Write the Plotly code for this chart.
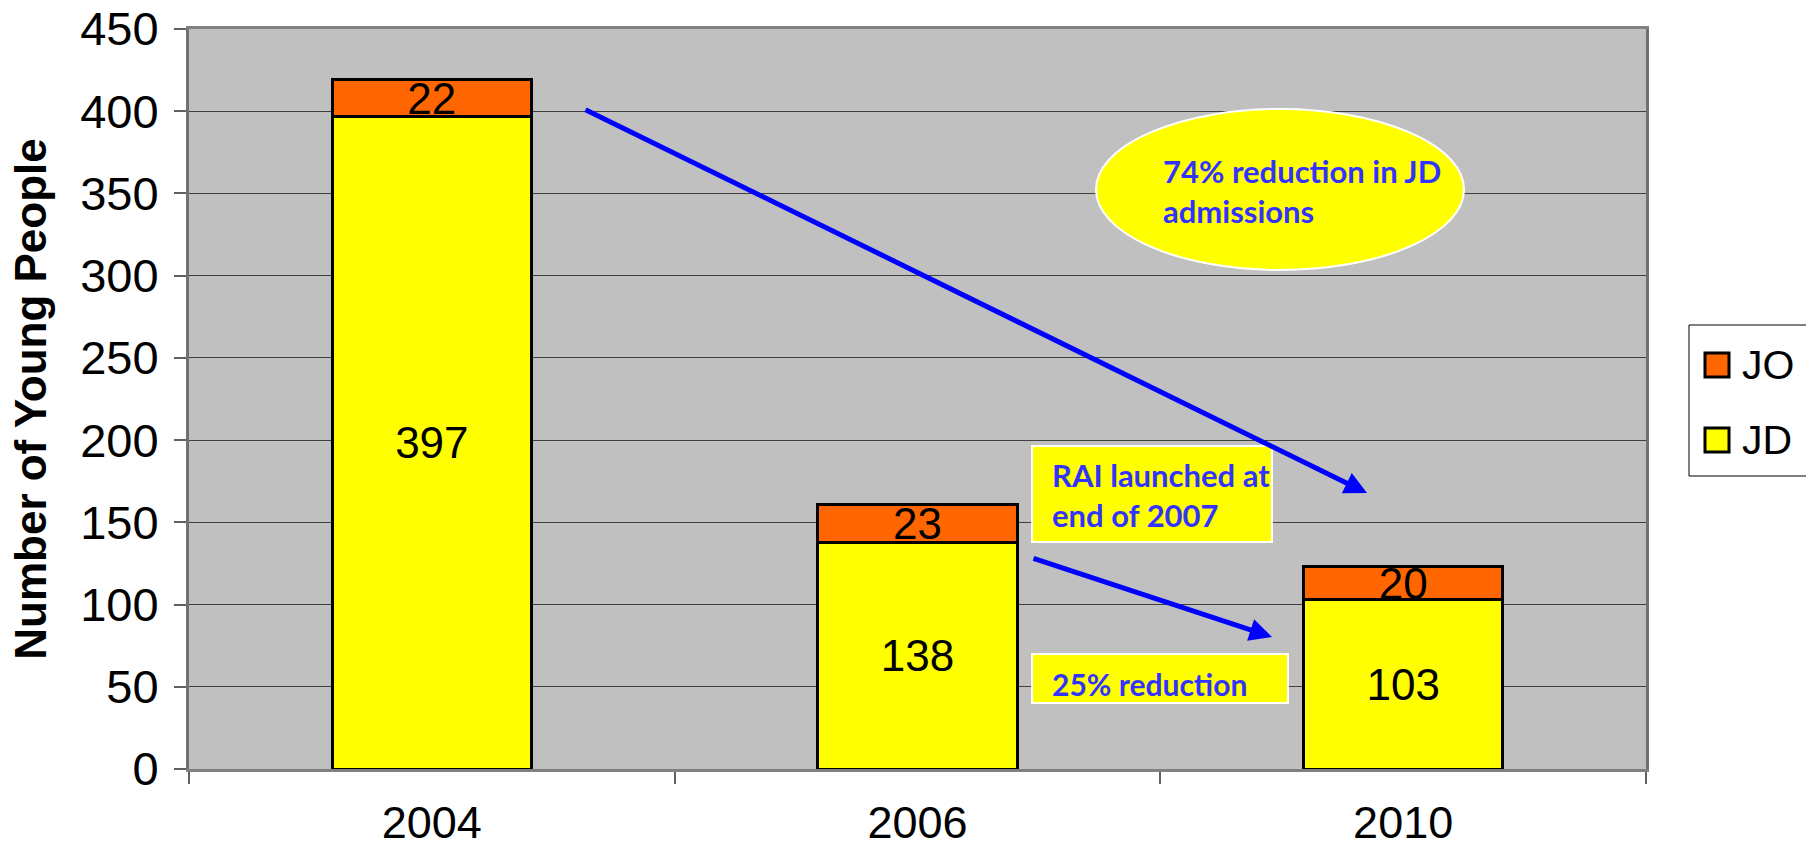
import plotly.graph_objects as go

# ---- data ----
years = ["2004", "2006", "2010"]
jd_values = [397, 138, 103]
jo_values = [22, 23, 20]
series_names = ["JD", "JO"]
y_ticks = [0, 50, 100, 150, 200, 250, 300, 350, 400, 450]

ellipse_text = "74% reduction in JD<br>admissions"
rai_text = "RAI launched at<br>end of 2007"
small_text = "25% reduction"
y_title = "Number of Young People"

# ---- layout geometry (page pixels) ----
W, H = 1806, 849
L, R, T, B = 189, 1646, 29, 769
PW, PH = R - L, B - T


def px(x):
    return (x - L) / PW


def py(y):
    return (B - y) / PH


ORANGE = "#FF6600"
YELLOW = "#FFFF00"
TXT_BLUE = "#3333FF"
BASE_FONT = "Liberation Sans, Arial, sans-serif"
NOTE_FONT = "Lato, Carlito, Calibri, sans-serif"
FS = 44
TICK_FS = 47
NOTE_FS = 31

fig = go.Figure()
fig.add_trace(go.Bar(
    x=years, y=jd_values, name=series_names[0],
    marker=dict(color=YELLOW, line=dict(color="black", width=3)),
    text=[str(v) for v in jd_values], textposition="inside",
    insidetextanchor="middle", textangle=0,
    textfont=dict(size=FS, color="black", family=BASE_FONT),
    width=0.41, showlegend=False, hoverinfo="skip",
))
fig.add_trace(go.Bar(
    x=years, y=jo_values, name=series_names[1],
    marker=dict(color=ORANGE, line=dict(color="black", width=3)),
    text=[str(v) for v in jo_values], textposition="inside",
    insidetextanchor="middle", textangle=0,
    textfont=dict(size=FS, color="black", family=BASE_FONT),
    width=0.41, showlegend=False, hoverinfo="skip",
))

shapes = [
    dict(type="circle", xref="paper", yref="paper",
         x0=px(1096), x1=px(1464), y0=py(270), y1=py(109),
         fillcolor=YELLOW, line=dict(color="white", width=2), layer="above"),
    dict(type="rect", xref="paper", yref="paper",
         x0=px(1032), x1=px(1272), y0=py(542), y1=py(446),
         fillcolor=YELLOW, line=dict(color="white", width=2), layer="above"),
    dict(type="rect", xref="paper", yref="paper",
         x0=px(1032), x1=px(1288), y0=py(703), y1=py(654),
         fillcolor=YELLOW, line=dict(color="white", width=2), layer="above"),
    # legend box and swatches
    dict(type="rect", xref="paper", yref="paper",
         x0=px(1689), x1=px(1815), y0=py(476), y1=py(325),
         fillcolor="white", line=dict(color="black", width=1), layer="above"),
    dict(type="rect", xref="paper", yref="paper",
         x0=px(1705), x1=px(1729), y0=py(377), y1=py(353),
         fillcolor=ORANGE, line=dict(color="black", width=3), layer="above"),
    dict(type="rect", xref="paper", yref="paper",
         x0=px(1705), x1=px(1729), y0=py(452), y1=py(428),
         fillcolor=YELLOW, line=dict(color="black", width=3), layer="above"),
]

note_font = dict(family=NOTE_FONT, size=NOTE_FS, color=TXT_BLUE, weight="bold")
annotations = [
    dict(xref="paper", yref="paper", x=px(1161), y=py(191), text=ellipse_text,
         showarrow=False, xanchor="left", yanchor="middle", align="left",
         font=note_font),
    dict(xref="paper", yref="paper", x=px(1050), y=py(495), text=rai_text,
         showarrow=False, xanchor="left", yanchor="middle", align="left",
         font=note_font),
    dict(xref="paper", yref="paper", x=px(1050), y=py(684), text=small_text,
         showarrow=False, xanchor="left", yanchor="middle", align="left",
         font=dict(family=NOTE_FONT, size=30, color=TXT_BLUE, weight="bold")),
    dict(xref="paper", yref="paper", x=px(1367), y=py(493), text="",
         showarrow=True, ax=584 - 1367, ay=109 - 493, axref="pixel", ayref="pixel",
         arrowhead=2, arrowsize=0.9, arrowwidth=5, arrowcolor="#0000FF", standoff=0),
    dict(xref="paper", yref="paper", x=px(1272), y=py(637), text="",
         showarrow=True, ax=1032 - 1272, ay=558 - 637, axref="pixel", ayref="pixel",
         arrowhead=2, arrowsize=0.9, arrowwidth=5, arrowcolor="#0000FF", standoff=0),
    dict(xref="paper", yref="paper", x=px(1740), y=py(365), text=series_names[1],
         showarrow=False, xanchor="left", yanchor="middle",
         font=dict(family=BASE_FONT, size=41, color="black")),
    dict(xref="paper", yref="paper", x=px(1740), y=py(440), text=series_names[0],
         showarrow=False, xanchor="left", yanchor="middle",
         font=dict(family=BASE_FONT, size=41, color="black")),
]

fig.update_layout(
    width=W, height=H,
    barmode="stack",
    paper_bgcolor="white", plot_bgcolor="#C0C0C0",
    margin=dict(l=L, r=W - R, t=T, b=H - B, pad=0),
    showlegend=False,
    shapes=shapes, annotations=annotations,
    uniformtext=dict(minsize=FS, mode="show"),
    font=dict(family=BASE_FONT, color="black"),
    xaxis=dict(
        type="category", categoryorder="array", categoryarray=years,
        tickson="boundaries", ticks="outside", ticklen=12, tickwidth=2,
        tickcolor="#606060", showgrid=False,
        showline=True, linecolor="#808080", linewidth=3, mirror=True,
        tickfont=dict(size=45, family=BASE_FONT), ticklabelstandoff=12,
        automargin=False,
    ),
    yaxis=dict(
        range=[0, 450], tickvals=y_ticks, ticks="outside", ticklen=12,
        tickwidth=2, tickcolor="#606060",
        showgrid=True, gridcolor="#404040", gridwidth=1,
        showline=True, linecolor="#707070", linewidth=3, mirror=True,
        zeroline=False, ticklabeloverflow="allow",
        tickfont=dict(size=TICK_FS, family=BASE_FONT), ticklabelstandoff=6,
        title=dict(text=y_title, standoff=20,
                   font=dict(size=44, family=BASE_FONT, weight="bold")),
        automargin=False,
    ),
)

fig.write_html(
    "out.html",
    config={"displayModeBar": False},
    post_script="document.body.style.margin='0';document.body.style.overflow='hidden';",
)
